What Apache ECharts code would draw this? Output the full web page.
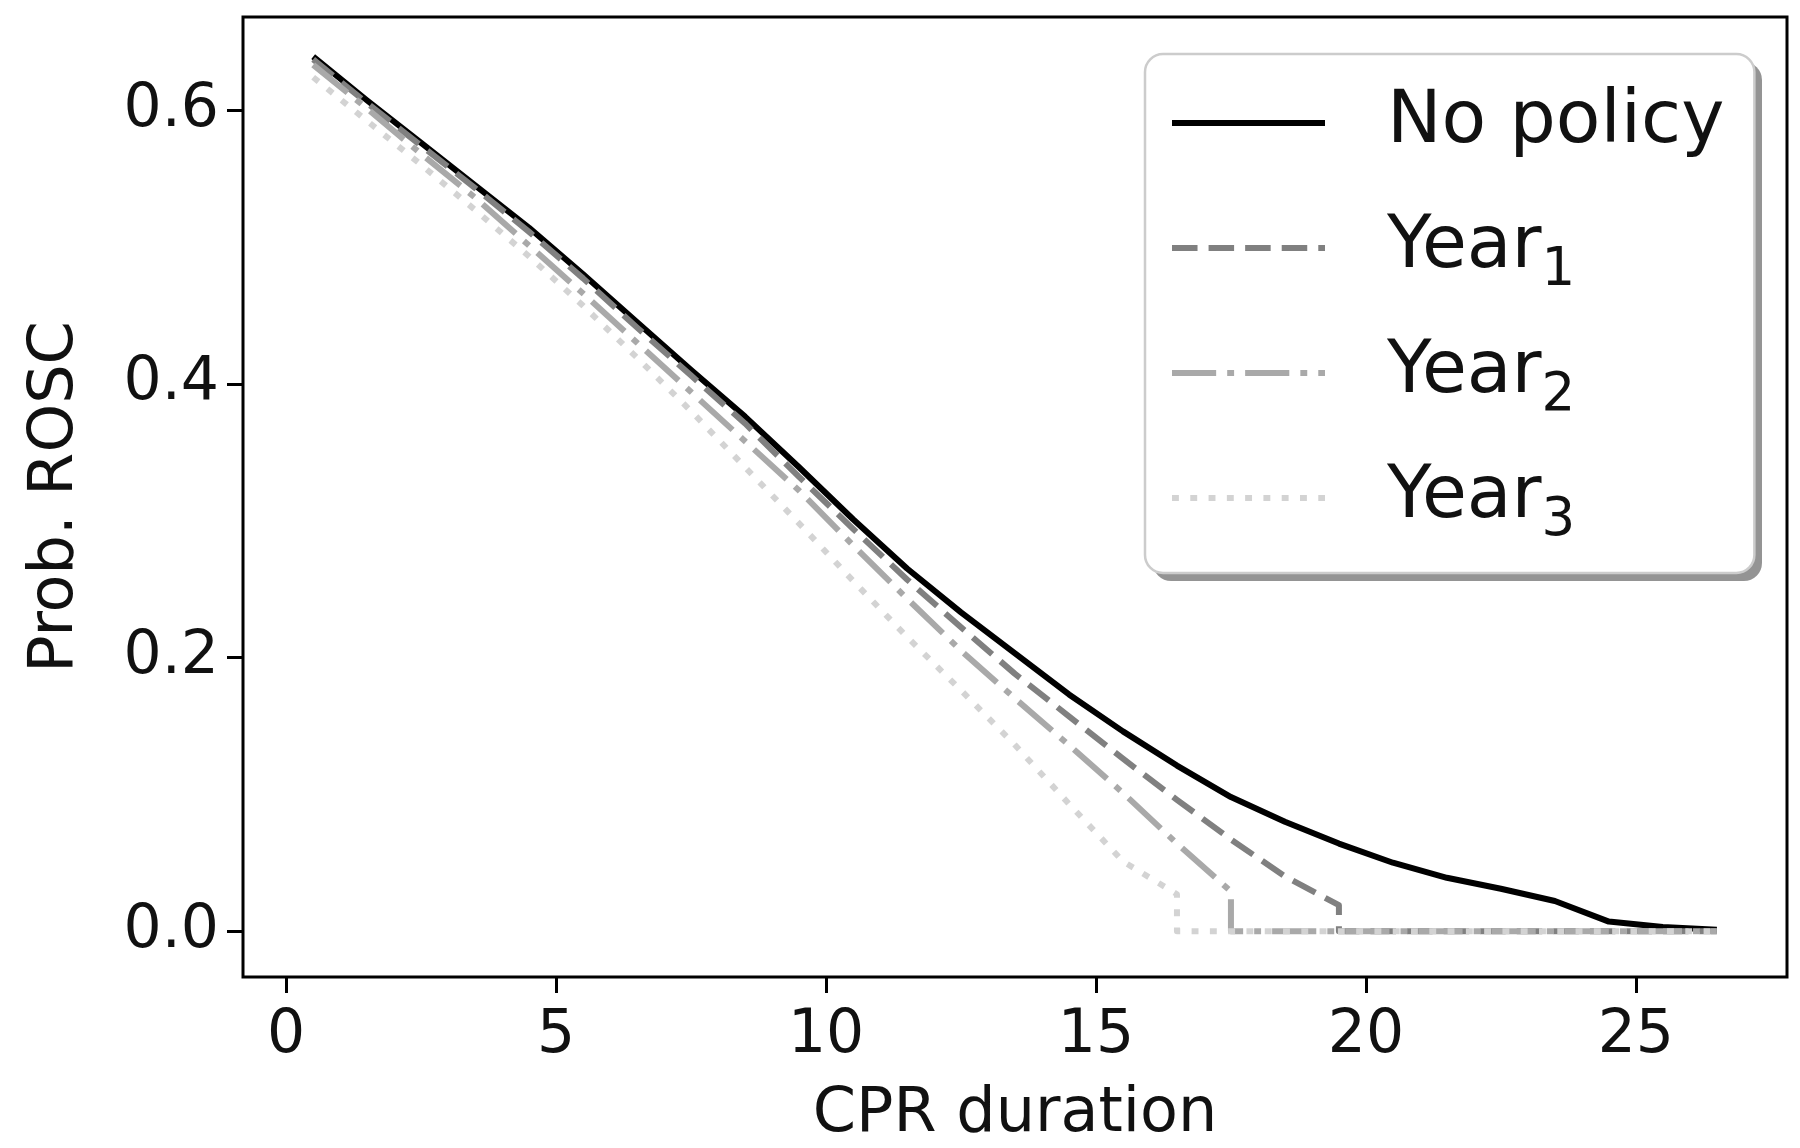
<!DOCTYPE html>
<html><head><meta charset="utf-8">
<script src="https://cdn.jsdelivr.net/npm/echarts@6/dist/echarts.min.js"></script>
<style>html,body{margin:0;padding:0;background:#fff}#c{width:1800px;height:1148px}</style>
</head><body><div id="c"></div>
<script>
// ---- data ----
const xValues = [0.5,1.5,2.5,3.5,4.5,5.5,6.5,7.5,8.5,9.5,10.5,11.5,12.5,13.5,14.5,15.5,16.5,17.5,18.5,19.5,20.5,21.5,22.5,23.5,24.5,25.5,26.5];
const noPolicy = [0.639,0.607,0.576,0.545,0.514,0.480,0.445,0.410,0.376,0.339,0.301,0.265,0.233,0.203,0.173,0.146,0.121,0.098,0.080,0.064,0.050,0.039,0.031,0.022,0.007,0.003,0.001];
const year1 = [0.637,0.605,0.574,0.543,0.511,0.477,0.441,0.406,0.371,0.332,0.294,0.257,0.222,0.188,0.157,0.126,0.096,0.067,0.040,0.019,0,0,0,0,0,0,0];
const year2 = [0.633,0.601,0.568,0.536,0.501,0.466,0.430,0.394,0.358,0.322,0.282,0.243,0.205,0.170,0.136,0.101,0.064,0.029,0,0,0,0,0,0,0,0,0];
const year3 = [0.624,0.592,0.560,0.527,0.493,0.457,0.419,0.380,0.339,0.298,0.256,0.215,0.176,0.136,0.093,0.051,0.027,0,0,0,0,0,0,0,0,0,0];
// x position at which each policy curve drops vertically to zero
const year1Drop = 19.5;
const year2Drop = 17.5;
const year3Drop = 16.5;
const seriesNames = ['No policy','Year1','Year2','Year3'];
const xTicks = [0,5,10,15,20,25];
const yTicks = [0.0,0.2,0.4,0.6];
const xTitle = 'CPR duration';
const yTitle = 'Prob. ROSC';

function build(vals, drop) {
  const out = [];
  xValues.forEach((x, i) => {
    out.push([x, vals[i]]);
    if (drop !== null && x === drop) out.push([x, 0]);
  });
  return out;
}

const FONT = 'DejaVu Sans';
const lw = 6;
const u = 6.9;
const chart = echarts.init(document.getElementById('c'), null, {renderer: 'canvas'});
const mk = (name, data, color, type, z) => ({
  name, type: 'line', data, symbol: 'none', showSymbol: false, z,
  lineStyle: {color, width: lw, type, cap: 'butt', join: 'round'},
  itemStyle: {color},
  emphasis: {disabled: true}, animation: false
});

// legend box geometry (layout only)
const LG = {x: 1145, y: 54, w: 609, h: 519};

chart.setOption({
  animation: false,
  backgroundColor: '#ffffff',
  grid: {left: 243, right: 13, top: 17, bottom: 171, containLabel: false, outerBoundsMode: 'none',
         show: true, borderColor: '#000', borderWidth: 3, backgroundColor: 'transparent'},
  graphic: [{
    type: 'rect', z: 5, silent: true,
    shape: {x: LG.x + 8, y: LG.y + 8, width: LG.w, height: LG.h, r: 18},
    style: {fill: 'rgba(0,0,0,0.42)'}
  }],
  xAxis: {
    type: 'value', min: -0.8, max: 27.8,
    name: xTitle, nameLocation: 'middle', nameGap: 107,
    nameTextStyle: {fontFamily: FONT, fontSize: 62, color: '#111'},
    axisLine: {show: false, onZero: false},
    splitLine: {show: false},
    axisTick: {show: true, inside: false, length: 16, lineStyle: {color: '#000', width: 3}, customValues: xTicks},
    axisLabel: {fontFamily: FONT, fontSize: 60, color: '#111', margin: 29, customValues: xTicks, formatter: v => String(v)}
  },
  yAxis: {
    type: 'value', min: -0.0335, max: 0.668,
    name: yTitle, nameLocation: 'middle', nameGap: 156,
    nameTextStyle: {fontFamily: FONT, fontSize: 62, color: '#111'},
    axisLine: {show: false, onZero: false},
    splitLine: {show: false},
    axisTick: {show: true, inside: false, length: 16, lineStyle: {color: '#000', width: 3}, customValues: yTicks},
    axisLabel: {fontFamily: FONT, fontSize: 60, color: '#111', margin: 24, customValues: yTicks, formatter: v => v.toFixed(1)}
  },
  legend: {
    show: true, orient: 'vertical', left: LG.x, top: LG.y, z: 10,
    padding: [19, 30, 25, 24],
    itemGap: 25, itemWidth: 153, itemHeight: 8,
    backgroundColor: '#ffffff', borderColor: '#cccccc', borderWidth: 2.5, borderRadius: 18,
    selectedMode: false,
    data: seriesNames,
    itemStyle: {color: 'rgba(0,0,0,0)', borderWidth: 0, opacity: 0},
    lineStyle: {width: lw},
    formatter: name => name.startsWith('Year') ? '{b|Year}{s|' + name.slice(4) + '}' : '{b|' + name + '}',
    textStyle: {
      fontFamily: FONT, fontSize: 73, color: '#111', lineHeight: 100,
      rich: {
        b: {fontFamily: FONT, fontSize: 73, color: '#111', lineHeight: 100, padding: [0, 0, 0, 57]},
        s: {fontFamily: FONT, fontSize: 53, color: '#111', lineHeight: 52, verticalAlign: 'bottom'}
      }
    }
  },
  series: [
    mk(seriesNames[0], build(noPolicy, null), '#000000', 'solid', 2),
    mk(seriesNames[1], build(year1, year1Drop), '#808080', [3.7*u, 1.6*u], 3),
    mk(seriesNames[2], build(year2, year2Drop), '#a9a9a9', [6.4*u, 1.6*u, 1*u, 1.6*u], 4),
    mk(seriesNames[3], build(year3, year3Drop), '#d3d3d3', [1*u, 1.65*u], 5)
  ]
});
</script>
</body></html>
